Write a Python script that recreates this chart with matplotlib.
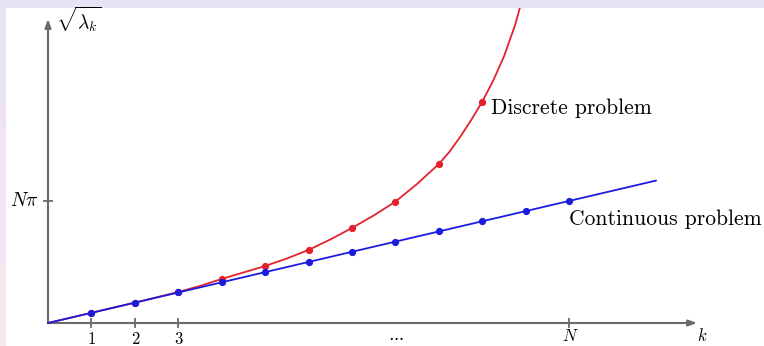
import numpy as np
import matplotlib
matplotlib.use("Agg")
import matplotlib.pyplot as plt
from matplotlib.colors import LinearSegmentedColormap

plt.rcParams["mathtext.fontset"] = "cm"

# ---- data (eigenvalue square roots, in multiples of pi) ----
N = 12
k_cont = list(range(1, 13))
cont_vals = [1, 2, 3, 4, 5, 6, 7, 8, 9, 10, 11, 12]
cont_line_k = [0, 14]
cont_line_v = [0, 14]

k_disc = [1, 2, 3, 4, 5, 6, 7, 8, 9, 10]
disc_vals = [1.0, 2.0, 3.05, 4.33, 5.60, 7.18, 9.34, 11.93, 15.63, 21.76]

disc_curve_k = [0, 1, 2, 3, 3.5, 4, 4.5, 5, 5.5, 6, 6.5, 7, 7.5, 8, 8.5,
                9, 9.25, 9.5, 9.75, 10, 10.25, 10.5, 10.75, 11.0]
disc_curve_v = [0, 1.0, 2.0, 3.05, 3.64, 4.33, 4.97, 5.60, 6.34, 7.18, 8.21,
                9.34, 10.57, 11.93, 13.67, 15.63, 16.85, 18.35, 19.98, 21.76,
                23.8, 26.2, 29.2, 33.0]

x_ticks = [1, 2, 3]
x_tick_labels = ["1", "2", "3"]

RED = "#e3222c"
BLUE = "#1c1ce0"
AXC = "#6a6a6a"

W, H = 764, 346
fig = plt.figure(figsize=(W / 100, H / 100), dpi=100, facecolor="white")

# border strips
cmap = LinearSegmentedColormap.from_list("edge", ["#e7e2f5", "#f1e5f3", "#f6e9f1"])
top = fig.add_axes([0, 1 - 8 / H, 1, 8 / H])
top.axis("off")
top.add_patch(plt.Rectangle((0, 0), 1, 1, transform=top.transAxes, color="#e8e3f5"))
left = fig.add_axes([0, 0, 6 / W, 1 - 8 / H])
left.imshow(np.linspace(0, 1, 100)[:, None], aspect="auto", cmap=cmap,
            extent=[0, 1, 0, 1])
left.axis("off")

# main plot region (white area)
ax = fig.add_axes([6 / W, 0, 1 - 6 / W, 1 - 8 / H])
ax.set_facecolor("white")
px_k = 43.42
px_v = 10.17
x0, y0 = 48, 323
ax.set_xlim((6 - x0) / px_k, (W - x0) / px_k)
ax.set_ylim((y0 - H) / px_v, (y0 - 8) / px_v)
ax.axis("off")

# axes with arrows
arrow = dict(arrowstyle="-|>,head_length=0.5,head_width=0.18",
             color=AXC, lw=1.5, shrinkA=0, shrinkB=0)
ax.annotate("", xy=(14.95, 0), xytext=(0, 0), arrowprops=arrow)
ax.annotate("", xy=(0, 29.9), xytext=(0, 0), arrowprops=arrow)

# tick marks
for kk in x_ticks + [N]:
    ax.plot([kk], [0], marker="|", ms=7, mew=1.3, color=AXC, zorder=2)
ax.plot([0], [N], marker="_", ms=7, mew=1.3, color=AXC, zorder=2)

# curves and points
ax.plot(disc_curve_k, disc_curve_v, color=RED, lw=1.3, zorder=3)
ax.plot(k_disc, disc_vals, "o", color=RED, ms=4.2, zorder=4)
ax.plot(cont_line_k, cont_line_v, color=BLUE, lw=1.3, zorder=5)
ax.plot(k_cont, cont_vals, "o", color=BLUE, ms=4.2, zorder=6)

# labels
for kk, lab in zip(x_ticks, x_tick_labels):
    ax.annotate(lab, xy=(kk, 0), xytext=(0, -9), textcoords="offset pixels",
                ha="center", va="top", fontsize=12, family="cmr10")
ax.annotate(r"$\cdots$", xy=(8, 0), xytext=(0, -13), textcoords="offset pixels",
            ha="center", va="center", fontsize=12)
ax.annotate("N", xy=(N, 0), xytext=(0, -13), textcoords="offset pixels",
            ha="center", va="center", fontsize=12, family="cmmi10")
ax.annotate("k", xy=(14.95, 0), xytext=(4, -13), textcoords="offset pixels",
            ha="center", va="center", fontsize=12, family="cmmi10")
ax.annotate(r"$N\pi$", xy=(0, N), xytext=(-9, 0), textcoords="offset pixels",
            ha="right", va="center", fontsize=14)
ax.annotate(r"$\sqrt{\lambda_k}$", xy=(0, 29.9), xytext=(8, 0),
            textcoords="offset pixels", ha="left", va="center", fontsize=14)

ax.text(10.2, 21.1, "Discrete problem", fontsize=15.5, family="cmr10",
        ha="left", va="center")
ax.text(12.0, 10.2, "Continuous problem", fontsize=15.5, family="cmr10",
        ha="left", va="center")

fig.savefig("out.png", dpi=100, facecolor="white")
